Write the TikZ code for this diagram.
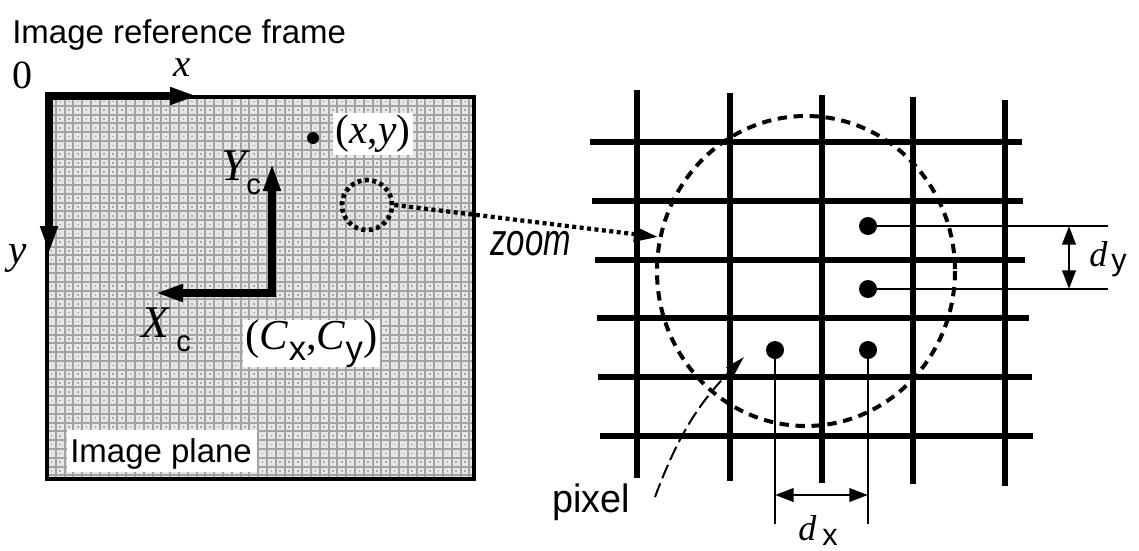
\documentclass[tikz,border=0pt]{standalone}
\usepackage{fontspec}
\setmainfont{Liberation Serif}
\setsansfont{Liberation Sans}
\usetikzlibrary{arrows.meta}
\definecolor{patbg}{HTML}{E6E6E6}
\definecolor{patline}{HTML}{A2A2A2}
\definecolor{patdot}{HTML}{A8A8A8}
\tikzset{
  sanslbl/.style={inner sep=0pt, font=\sffamily\fontsize{24.75}{28}\selectfont},
  serlbl/.style={inner sep=0pt, font=\fontsize{31}{34}\selectfont\itshape},
  biglbl/.style={inner sep=0pt, font=\fontsize{34}{38}\selectfont\itshape},
  sublbl/.style={inner sep=0pt, font=\sffamily\fontsize{22}{24}\selectfont},
  axisarrow/.style={line width=6pt, line join=miter,
    {Triangle[length=21pt,width=12pt]}-{Triangle[length=21pt,width=12pt]}},
  gridbar/.style={line width=3.8pt},
  whitebox/.style={fill=white, inner sep=0pt},
  pdot/.style={circle, fill=black, inner sep=0pt, minimum size=13.5pt},
  guide/.style={line width=1.5pt},
  dimarrow/.style={line width=2.2pt,
    {Triangle[length=14pt,width=10pt]}-{Triangle[length=14pt,width=10pt]}},
  zoomarrow/.style={line width=3.2pt, dash pattern=on 3pt off 2.6pt,
    -{Triangle[length=18pt,width=11pt]}},
  pointer/.style={line width=1.5pt, dash pattern=on 11pt off 4pt,
    -{Triangle[length=15pt,width=8pt]}},
}
\begin{document}
\begin{tikzpicture}[x=0.75pt,y=-0.75pt]
\useasboundingbox (0,0) rectangle (1139,550);
% ---------- image plane texture ----------
\begin{scope}
  \clip (47,97) rectangle (474,479);
  \fill[patbg] (47,97) rectangle (474,479);
  \foreach \k in {0,...,49} {
    \draw[patline, line width=1.6pt] ({47+\k*8.8},97) -- ({47+\k*8.8},479);
    \draw[patline, line width=1.6pt] (47,{97+\k*8.8}) -- (474,{97+\k*8.8});
    \draw[patdot, line width=1.2pt, dash pattern=on 1.2pt off 5.4pt]
      (50.6,{101.4+\k*8.8}) -- (474,{101.4+\k*8.8});
  }
\end{scope}
\draw[line width=3pt] (47,97) rectangle (474,479);
% ---------- image axes ----------
\coordinate (O) at (49,96);
\coordinate (xtip) at (198,96);
\coordinate (ytip) at (49,254);
\draw[axisarrow] (ytip) -- (O) -- (xtip);
\node[sanslbl, anchor=base west] (title) at (12,43) {Image reference frame};
\node[inner sep=0pt, font=\fontsize{30}{34}\selectfont, anchor=base west] (zero) at (12,88) {0};
\node[serlbl, font=\fontsize{29}{32}\selectfont\itshape, anchor=base west] (xl) at (173,76) {x};
\node[serlbl, anchor=base west] (yl) at (8,263) {y};
% ---------- camera axes ----------
\coordinate (C) at (272,293);
\coordinate (Yctip) at (272,163);
\coordinate (Xctip) at (155,293);
\draw[axisarrow] (Yctip) -- (C) -- (Xctip);
\node[biglbl, anchor=base west] (Yl) at (221,180) {Y};
\node[sublbl, anchor=base west] (Ycl) at (246,194) {c};
\node[biglbl, anchor=base west] (Xl) at (141,337) {X};
\node[sublbl, anchor=base west] (Xcl) at (176,351) {c};
% ---------- labels with white backgrounds ----------
\node[pdot, minimum size=9pt] (pt) at (313,138) {};
\node[whitebox, minimum width=60pt, minimum height=31.5pt,
      font=\fontsize{31}{34}\selectfont] (xy) at (373,134) {(\textit{x},\textit{y})};
\node[whitebox, minimum width=102.75pt, minimum height=32.25pt,
      font=\fontsize{32}{36}\selectfont] (cxy) at (311.5,343.5)
  {(\textit{C}\raisebox{-8pt}{\sffamily\fontsize{26}{26}\selectfont x},\textit{C}\raisebox{-8pt}{\sffamily\fontsize{26}{26}\selectfont y})};
\node[whitebox, minimum width=142.5pt, minimum height=31.5pt] (ipbox) at (162,451) {};
\node[sanslbl, anchor=base west] (ipl) at (70,462) {Image plane};
% ---------- zoom ----------
\node[draw, circle, line width=3.5pt, dash pattern=on 3pt off 2.6pt,
      minimum size=37.5pt, inner sep=0pt] (zc) at (367,205) {};
\coordinate (ztip) at (658,237);
\draw[zoomarrow] (zc.east) -- (ztip);
\node[inner sep=0pt, font=\sffamily\itshape\fontsize{26}{30}\selectfont, anchor=base west] (zl) at (490,255) {\scalebox{0.95}[1.3]{zoom}};
% ---------- pixel grid ----------
\foreach \x/\a/\b in {637/90/478, 730/93/481, 822/95/483, 913/97/484, 1005/100/486}
  \draw[gridbar] (\x,\a) -- (\x,\b);
\foreach \y/\a/\b in {142/590/1022, 201/592/1023, 260/595/1025, 318/597/1029, 377/598/1032, 436/600/1033}
  \draw[gridbar] (\a,\y) -- (\b,\y);
\draw[line width=3pt, dash pattern=on 7pt off 5pt] (806,271) ellipse [x radius=149, y radius=155];
% pixel centres
\node[pdot] (d1) at (868,226) {};
\node[pdot] (d2) at (868,289) {};
\node[pdot] (d3) at (868,350) {};
\node[pdot] (d4) at (775,350) {};
\coordinate (e1) at (1108,226);
\coordinate (e2) at (1108,289);
\coordinate (e3) at (868,524);
\coordinate (e4) at (775,524);
\draw[guide] (d1.center) -- (e1);
\draw[guide] (d2.center) -- (e2);
\draw[guide] (d3.center) -- (e3);
\draw[guide] (d4.center) -- (e4);
% spacing dimensions
\coordinate (dyA) at (1069,226);
\coordinate (dyB) at (1069,289);
\draw[dimarrow] (dyA) -- (dyB);
\node[inner sep=0pt, font=\fontsize{27}{30}\selectfont\itshape, anchor=base west] (dyd) at (1089,266) {d};
\node[inner sep=0pt, font=\sffamily\fontsize{23}{25}\selectfont, anchor=base west] (dyy) at (1111,270) {y};
\coordinate (dxA) at (775,495);
\coordinate (dxB) at (868,495);
\draw[dimarrow] (dxA) -- (dxB);
\node[inner sep=0pt, font=\fontsize{27}{30}\selectfont\itshape, anchor=base west] (dxd) at (798,540) {d};
\node[inner sep=0pt, font=\sffamily\fontsize{23}{25}\selectfont, anchor=base west] (dxx) at (822,545) {x};
% pixel label
\node[inner sep=0pt, font=\sffamily\fontsize{27}{30}\selectfont, anchor=base west] (pixl) at (552,512) {\scalebox{1.05}[1.1]{pixel}};
\coordinate (ps) at (655,497);
\coordinate (pe) at (744,357);
\draw[pointer] (ps) to[bend left=12] (pe);
\end{tikzpicture}
\end{document}
